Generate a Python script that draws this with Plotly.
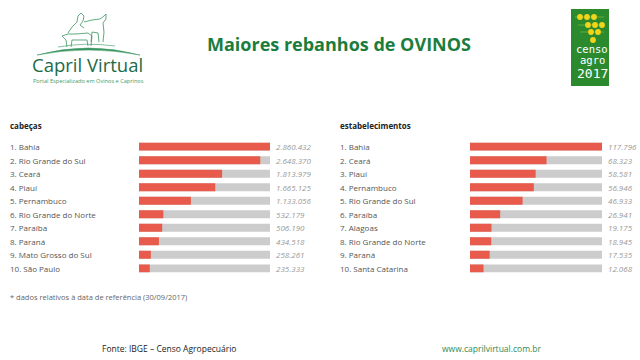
import plotly.graph_objects as go

# ---- data ----
left_title = "cabeças"
left_names = ["Bahia", "Rio Grande do Sul", "Ceará", "Piauí", "Pernambuco",
              "Rio Grande do Norte", "Paraíba", "Paraná", "Mato Grosso do Sul", "São Paulo"]
left_values = [2860432, 2648370, 1813979, 1665125, 1133056,
               532179, 506190, 434518, 258261, 235333]

right_title = "estabelecimentos"
right_names = ["Bahia", "Ceará", "Piauí", "Pernambuco", "Rio Grande do Sul",
               "Paraíba", "Alagoas", "Rio Grande do Norte", "Paraná", "Santa Catarina"]
right_values = [117796, 68323, 58581, 56946, 46933,
                26941, 19175, 18945, 17535, 12068]

title_text = "Maiores rebanhos de OVINOS"
note_text = "* dados relativos à data de referência (30/09/2017)"
source_text = "Fonte: IBGE – Censo Agropecuário"
site_text = "www.caprilvirtual.com.br"

W, H = 640, 360
RED = "#e85a4b"
GREY = "#cccccc"
FONT = "Open Sans"


def px(x):
    return x / W


def py(y):
    return 1 - y / H


def fmt(v):
    return f"{v:,}".replace(",", ".")


left_labels = [f"{i+1}. {n}" for i, n in enumerate(left_names)]
right_labels = [f"{i+1}. {n}" for i, n in enumerate(right_names)]

fig = go.Figure()
# background (full) bars
fig.add_trace(go.Bar(y=left_labels, x=[max(left_values)] * len(left_values), orientation="h",
                     marker=dict(color=GREY, line_width=0), xaxis="x", yaxis="y", hoverinfo="skip"))
fig.add_trace(go.Bar(y=left_labels, x=left_values, orientation="h",
                     marker=dict(color=RED, line_width=0), xaxis="x", yaxis="y"))
fig.add_trace(go.Bar(y=right_labels, x=[max(right_values)] * len(right_values), orientation="h",
                     marker=dict(color=GREY, line_width=0), xaxis="x2", yaxis="y2", hoverinfo="skip"))
fig.add_trace(go.Bar(y=right_labels, x=right_values, orientation="h",
                     marker=dict(color=RED, line_width=0), xaxis="x2", yaxis="y2"))

ydom = [py(275.8), py(139.2)]
axis_off = dict(showgrid=False, zeroline=False, showticklabels=False, showline=False, ticks="")
fig.update_layout(
    width=W, height=H, margin=dict(l=0, r=0, t=0, b=0),
    paper_bgcolor="white", plot_bgcolor="white",
    showlegend=False, barmode="overlay", bargap=0.42,
    xaxis=dict(domain=[px(139), px(270)], range=[0, max(left_values)], anchor="y", **axis_off),
    yaxis=dict(domain=ydom, autorange="reversed", anchor="x", **axis_off),
    xaxis2=dict(domain=[px(470), px(602)], range=[0, max(right_values)], anchor="y2", **axis_off),
    yaxis2=dict(domain=ydom, autorange="reversed", anchor="x2", **axis_off),
    font=dict(family=FONT),
)

ann = []
# table headers
ann.append(dict(text=f"<b>{left_title}</b>", x=px(8), y=py(125), xref="paper", yref="paper",
                xanchor="left", yanchor="middle", showarrow=False,
                font=dict(size=8, color="#222222", family=FONT)))
ann.append(dict(text=f"<b>{right_title}</b>", x=px(338), y=py(125), xref="paper", yref="paper",
                xanchor="left", yanchor="middle", showarrow=False,
                font=dict(size=8, color="#222222", family=FONT)))

for lab, v in zip(left_labels, left_values):
    ann.append(dict(text=lab, x=px(8), y=lab, xref="paper", yref="y", xanchor="left",
                    yanchor="middle", showarrow=False, font=dict(size=8, color="#555555")))
    ann.append(dict(text=f"<i>{fmt(v)}</i>", x=1, y=lab, xref="x domain", yref="y", xanchor="left",
                    xshift=4, yanchor="middle", showarrow=False, font=dict(size=8, color="#999999")))
for lab, v in zip(right_labels, right_values):
    ann.append(dict(text=lab, x=px(338), y=lab, xref="paper", yref="y2", xanchor="left",
                    yanchor="middle", showarrow=False, font=dict(size=8, color="#555555")))
    ann.append(dict(text=f"<i>{fmt(v)}</i>", x=1, y=lab, xref="x2 domain", yref="y2", xanchor="left",
                    xshift=4, yanchor="middle", showarrow=False, font=dict(size=8, color="#999999")))

# title
ann.append(dict(text=f"<b>{title_text}</b>", x=px(339), y=py(44), xref="paper", yref="paper",
                xanchor="center", yanchor="middle", showarrow=False,
                font=dict(size=18, color="#1b7d3d", family=FONT)))
# footnote & footer
ann.append(dict(text=note_text, x=px(8), y=py(297), xref="paper", yref="paper", xanchor="left",
                yanchor="middle", showarrow=False, font=dict(size=7.5, color="#666666")))
ann.append(dict(text=source_text, x=px(169), y=py(348), xref="paper", yref="paper", xanchor="center",
                yanchor="middle", showarrow=False, font=dict(size=8.5, color="#222222")))
ann.append(dict(text=site_text, x=px(491), y=py(348), xref="paper", yref="paper", xanchor="center",
                yanchor="middle", showarrow=False, font=dict(size=8.5, color="#2f8a55")))

# left logo text
ann.append(dict(text="Capril Virtual", x=px(87), y=py(64.5), xref="paper", yref="paper",
                xanchor="center", yanchor="middle", showarrow=False,
                font=dict(size=18.5, color="#1d6a48", family=FONT)))
ann.append(dict(text="Portal Especializado em Ovinos e Caprinos", x=px(88), y=py(81.5), xref="paper",
                yref="paper", xanchor="center", yanchor="middle", showarrow=False,
                font=dict(size=5.6, color="#3f9a64", family=FONT)))

# censo agro logo texts
for t, yy, sz in [("censo", 49, 10.5), ("agro", 60, 10.5), ("2017", 74, 13)]:
    ann.append(dict(text=t, x=px(592), y=py(yy), xref="paper", yref="paper", xanchor="center",
                    yanchor="middle", showarrow=False,
                    font=dict(size=sz, color="white", family="DejaVu Sans Mono")))

fig.update_layout(annotations=ann)

shapes = []
# censo agro green box
shapes.append(dict(type="rect", xref="paper", yref="paper", x0=px(571), x1=px(609), y0=py(86), y1=py(9),
                   fillcolor="#2c8a2e", line_width=0, layer="below"))
# decorative lines and dots
for yy, x_left in [(17, 575), (25, 578), (32, 580)]:
    shapes.append(dict(type="line", xref="paper", yref="paper", x0=px(x_left), x1=px(604),
                       y0=py(yy), y1=py(yy), line=dict(color="#8fbf3a", width=0.6)))
for cx, cy in [(580, 17), (587, 17), (594, 17), (588, 25), (595, 25), (602, 25),
               (591, 32), (598, 32), (593, 40)]:
    r = 2.9
    shapes.append(dict(type="circle", xref="paper", yref="paper", x0=px(cx - r), x1=px(cx + r),
                       y0=py(cy + r), y1=py(cy - r), fillcolor="#f2d419", line_width=0))


def path(points, close=False):
    s = "M " + " L ".join(f"{px(x):.5f},{py(y):.5f}" for x, y in points)
    return s + (" Z" if close else "")


# left logo: ground arcs and goats (simple outlines)
g = "#3a9560"
shapes.append(dict(type="path", xref="paper", yref="paper",
                   path=f"M {px(37)},{py(55)} Q {px(88)},{py(41)} {px(140)},{py(55)} "
                        f"Q {px(88)},{py(45)} {px(37)},{py(55)} Z",
                   fillcolor=g, line=dict(color=g, width=0.5)))
shapes.append(dict(type="path", xref="paper", yref="paper",
                   path=f"M {px(58)},{py(47)} Q {px(85)},{py(42)} {px(115)},{py(46)}",
                   line=dict(color=g, width=0.6)))
goat_lines = [
    [(68, 33), (72, 27), (77, 22), (78, 16), (81, 13), (84, 16), (83, 21), (80, 25), (84, 28)],
    [(84, 22), (92, 20), (100, 19), (104, 16), (106, 14), (106, 19), (103, 23), (104, 32), (103, 42)],
    [(99, 42), (98, 33), (92, 32), (91, 42)],
    [(62, 36), (68, 34), (76, 34), (88, 33), (92, 36), (91, 46)],
    [(88, 46), (87, 40), (72, 40), (71, 47)],
    [(67, 47), (66, 40), (62, 36)],
]
for pts in goat_lines:
    shapes.append(dict(type="path", xref="paper", yref="paper", path=path(pts),
                       line=dict(color=g, width=0.8)))
fig.update_layout(shapes=shapes)

fig.write_html("out.html", config={"displayModeBar": False},
               post_script="document.body.style.margin='0';")
